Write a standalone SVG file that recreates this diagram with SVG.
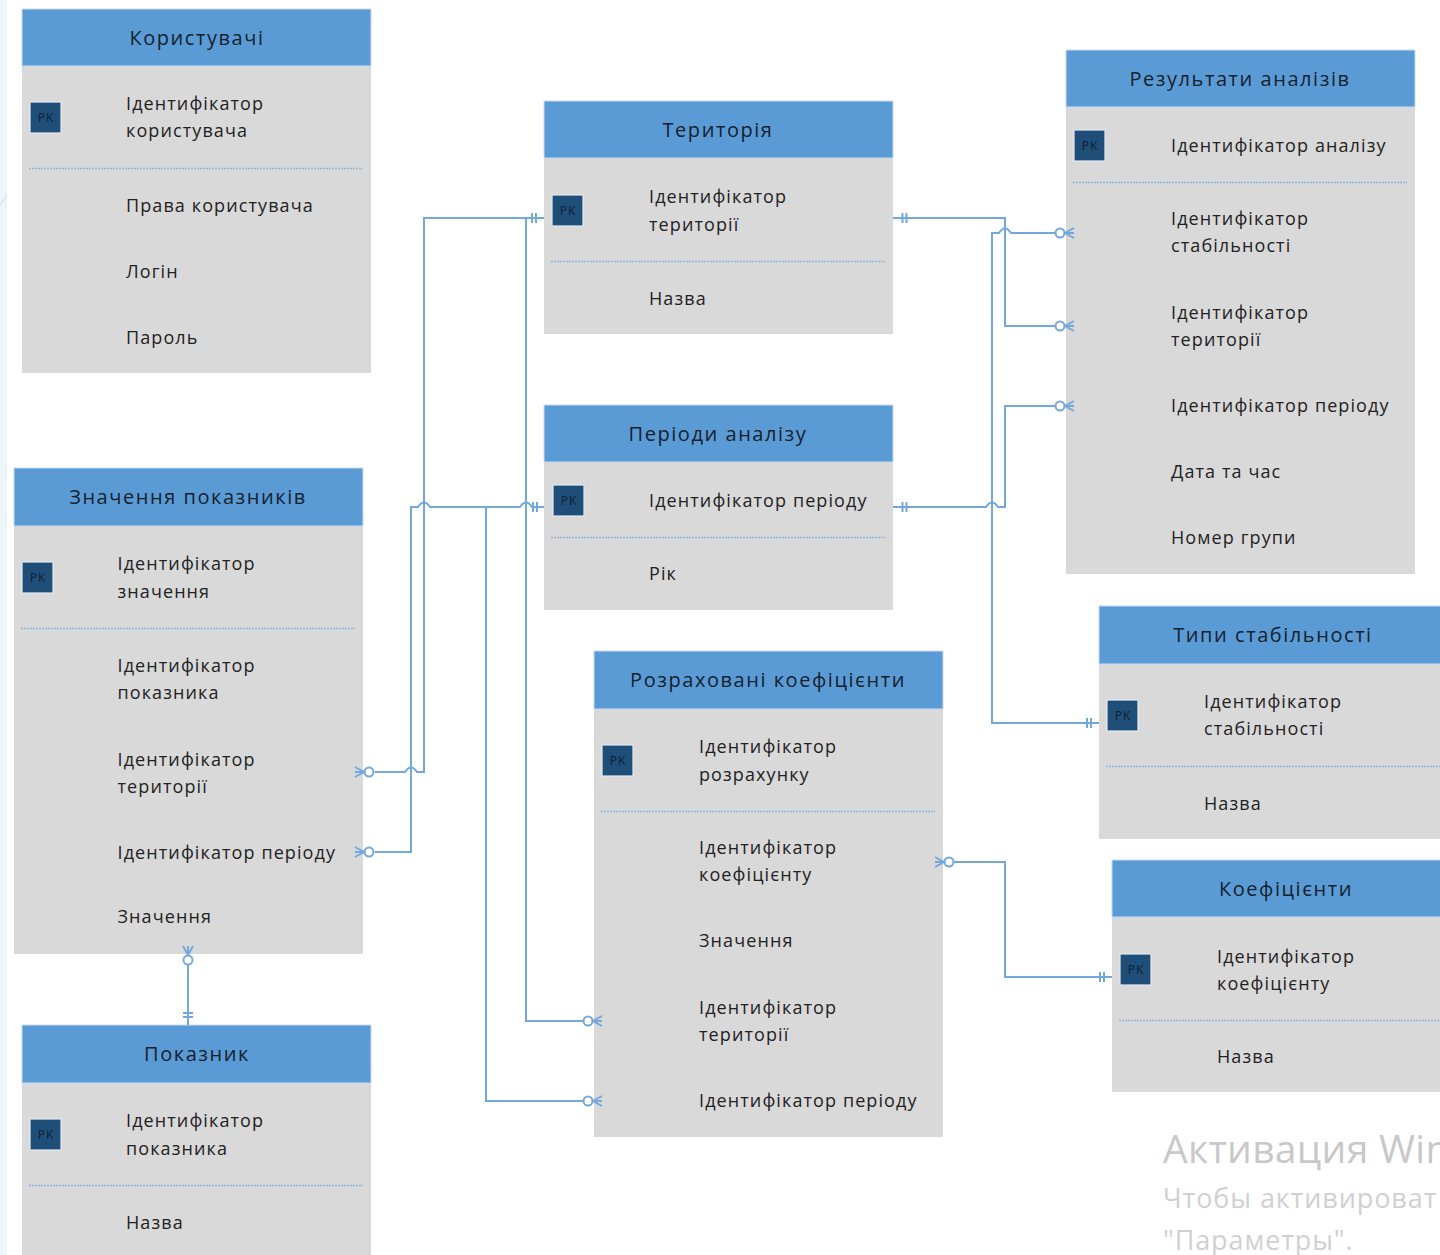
<svg xmlns="http://www.w3.org/2000/svg" width="1440" height="1255" viewBox="0 0 1440 1255">
<style>
.b{fill:#d9d9d9}.h{fill:#5b9bd5;stroke:#c9dcef;stroke-width:1}
.pk{fill:#1f4e79;stroke:#e4e9ee;stroke-width:1.2}
.pt{font:12px "Open Sans",sans-serif;fill:#0d2238;text-anchor:middle;letter-spacing:1px}
.t{font:20px "Open Sans","Noto Sans",sans-serif;fill:#14222e;text-anchor:middle;letter-spacing:1.55px}
.r{font:18px "Open Sans","Noto Sans",sans-serif;fill:#222;letter-spacing:1.1px}
.d{stroke:#8db7df;stroke-width:1.6;stroke-dasharray:2 1;fill:none}
.c{fill:none;stroke:#74a8dc;stroke-width:2}
.o{fill:#fff;stroke:#74a8dc;stroke-width:2}
.w1{font:39px "Open Sans","Noto Sans",sans-serif;fill:#c8c8c8;letter-spacing:.3px}
.w2{font:27px "Open Sans","Noto Sans",sans-serif;fill:#d0d0d0;letter-spacing:.9px}
</style>
<defs>
<g id="many"><circle cx="-6" cy="0" r="4.5" class="o"/><path class="c" d="M-1.500 0H8M8-5L-1 0L8 5"/></g>
<g id="one"><path class="c" d="M-2-5V5M2-5V5"/></g>
</defs>
<rect x="0" y="0" width="7" height="1255" fill="#eef5fa"/>
<path d="M0 205L7 195" stroke="#c5dcea" fill="none"/>

<g id="n-users"><rect class="b" x="22" y="66" width="349" height="307"/><rect class="h" x="22" y="9" width="349" height="57"/>
<text class="t" x="197" y="45">Користувачі</text>
<rect class="pk" x="30" y="102" width="31" height="31"/><text class="pt" x="46" y="122">PK</text>
<text class="r" x="126" y="110">Ідентифікатор</text><text class="r" x="126" y="137">користувача</text>
<path class="d" d="M29 168.500H363"/>
<text class="r" x="126" y="212">Права користувача</text><text class="r" x="126" y="278">Логін</text><text class="r" x="126" y="344">Пароль</text></g>

<g id="n-territory"><rect class="b" x="544" y="158" width="349" height="176"/><rect class="h" x="544" y="101" width="349" height="57"/>
<text class="t" x="718" y="137">Територія</text>
<rect class="pk" x="552" y="195" width="31" height="31"/><text class="pt" x="568" y="215">PK</text>
<text class="r" x="649" y="203">Ідентифікатор</text><text class="r" x="649" y="231">території</text>
<path class="d" d="M551 261.500H885"/>
<text class="r" x="649" y="305">Назва</text></g>

<g id="n-results"><rect class="b" x="1066" y="107" width="349" height="467"/><rect class="h" x="1066" y="50" width="349" height="57"/>
<text class="t" x="1240" y="86">Результати аналізів</text>
<rect class="pk" x="1074" y="130" width="31" height="31"/><text class="pt" x="1090" y="150">PK</text>
<text class="r" x="1171" y="152">Ідентифікатор аналізу</text>
<path class="d" d="M1073 182.500H1407"/>
<text class="r" x="1171" y="225">Ідентифікатор</text><text class="r" x="1171" y="252">стабільності</text>
<text class="r" x="1171" y="319">Ідентифікатор</text><text class="r" x="1171" y="346">території</text>
<text class="r" x="1171" y="412">Ідентифікатор періоду</text>
<text class="r" x="1171" y="478">Дата та час</text>
<text class="r" x="1171" y="544">Номер групи</text></g>

<g id="n-periods"><rect class="b" x="544" y="462" width="349" height="148"/><rect class="h" x="544" y="405" width="349" height="57"/>
<text class="t" x="718" y="441">Періоди аналізу</text>
<rect class="pk" x="553" y="485" width="31" height="31"/><text class="pt" x="569" y="505">PK</text>
<text class="r" x="649" y="507">Ідентифікатор періоду</text>
<path class="d" d="M551 537.500H885"/>
<text class="r" x="649" y="580">Рік</text></g>

<g id="n-values"><rect class="b" x="14" y="526" width="349" height="428"/><rect class="h" x="14" y="468" width="349" height="58"/>
<text class="t" x="188" y="504">Значення показників</text>
<rect class="pk" x="22" y="562" width="31" height="31"/><text class="pt" x="38" y="582">PK</text>
<text class="r" x="117.500" y="570">Ідентифікатор</text><text class="r" x="117.500" y="598">значення</text>
<path class="d" d="M21 628.500H355"/>
<text class="r" x="117.500" y="672">Ідентифікатор</text><text class="r" x="117.500" y="699">показника</text>
<text class="r" x="117.500" y="766">Ідентифікатор</text><text class="r" x="117.500" y="793">території</text>
<text class="r" x="117.500" y="859">Ідентифікатор періоду</text>
<text class="r" x="117.500" y="923">Значення</text></g>

<g id="n-calc"><rect class="b" x="594" y="709" width="349" height="428"/><rect class="h" x="594" y="651" width="349" height="58"/>
<text class="t" x="768" y="687">Розраховані коефіцієнти</text>
<rect class="pk" x="602" y="745" width="31" height="31"/><text class="pt" x="618" y="765">PK</text>
<text class="r" x="699" y="753">Ідентифікатор</text><text class="r" x="699" y="781">розрахунку</text>
<path class="d" d="M601 811.500H935"/>
<text class="r" x="699" y="854">Ідентифікатор</text><text class="r" x="699" y="881">коефіцієнту</text>
<text class="r" x="699" y="947">Значення</text>
<text class="r" x="699" y="1014">Ідентифікатор</text><text class="r" x="699" y="1041">території</text>
<text class="r" x="699" y="1107">Ідентифікатор періоду</text></g>

<g id="n-stability"><rect class="b" x="1099" y="664" width="341" height="175"/><rect class="h" x="1099" y="606" width="342" height="58"/>
<text class="t" x="1273" y="642">Типи стабільності</text>
<rect class="pk" x="1107" y="700" width="31" height="31"/><text class="pt" x="1123" y="720">PK</text>
<text class="r" x="1204" y="708">Ідентифікатор</text><text class="r" x="1204" y="735">стабільності</text>
<path class="d" d="M1106 766.500H1440"/>
<text class="r" x="1204" y="810">Назва</text></g>

<g id="n-coef"><rect class="b" x="1112" y="917" width="328" height="175"/><rect class="h" x="1112" y="860" width="329" height="57"/>
<text class="t" x="1286" y="896">Коефіцієнти</text>
<rect class="pk" x="1120" y="954" width="31" height="31"/><text class="pt" x="1136" y="974">PK</text>
<text class="r" x="1217" y="963">Ідентифікатор</text><text class="r" x="1217" y="990">коефіцієнту</text>
<path class="d" d="M1119 1020.500H1440"/>
<text class="r" x="1217" y="1063">Назва</text></g>

<g id="n-indicator"><rect class="b" x="22" y="1083" width="349" height="172"/><rect class="h" x="22" y="1025" width="349" height="58"/>
<text class="t" x="197" y="1061">Показник</text>
<rect class="pk" x="30" y="1119" width="31" height="31"/><text class="pt" x="46" y="1139">PK</text>
<text class="r" x="126" y="1127">Ідентифікатор</text><text class="r" x="126" y="1155">показника</text>
<path class="d" d="M29 1185.500H363"/>
<text class="r" x="126" y="1229">Назва</text></g>

<g id="connectors">
<path class="c" d="M893 218H1005V326H1060"/>
<path class="c" d="M1060 233H1011q-6-9-12 0H992V723H1099"/>
<path class="c" d="M893 507H986q6-9 12 0H1005V406H1060"/>
<path class="c" d="M544 218H424V772H417q-6-9-12 0H375"/>
<path class="c" d="M544 507H532q-6-9-12 0H430q-6-9-12 0H411V852H375"/>
<path class="c" d="M520 507H486V1101H590"/>
<path class="c" d="M526 218V1021H590"/>
<path class="c" d="M943 862H1005V977H1112"/>
<path class="c" d="M188 954V1025"/>
<use href="#one" x="904.500" y="218"/><use href="#one" x="534" y="218"/><use href="#one" x="904.500" y="507"/><use href="#one" x="535" y="507"/><use href="#one" x="1089" y="723"/><use href="#one" x="1102" y="977"/>
<g transform="translate(188 1015) rotate(90)"><use href="#one"/></g>
<use href="#many" x="1066" y="233"/><use href="#many" x="1066" y="326"/><use href="#many" x="1066" y="406"/>
<use href="#many" x="594" y="1021"/><use href="#many" x="594" y="1101"/>
<g transform="translate(363 772) rotate(180)"><use href="#many"/></g>
<g transform="translate(363 852) rotate(180)"><use href="#many"/></g>
<g transform="translate(943 862) rotate(180)"><use href="#many"/></g>
<g transform="translate(188 954) rotate(-90)"><use href="#many"/></g>
</g>
<text class="w1" x="1163" y="1163">Активация Win</text>
<text class="w2" x="1163" y="1208">Чтобы активироват</text>
<text class="w2" x="1163" y="1250">"Параметры".</text>
</svg>
